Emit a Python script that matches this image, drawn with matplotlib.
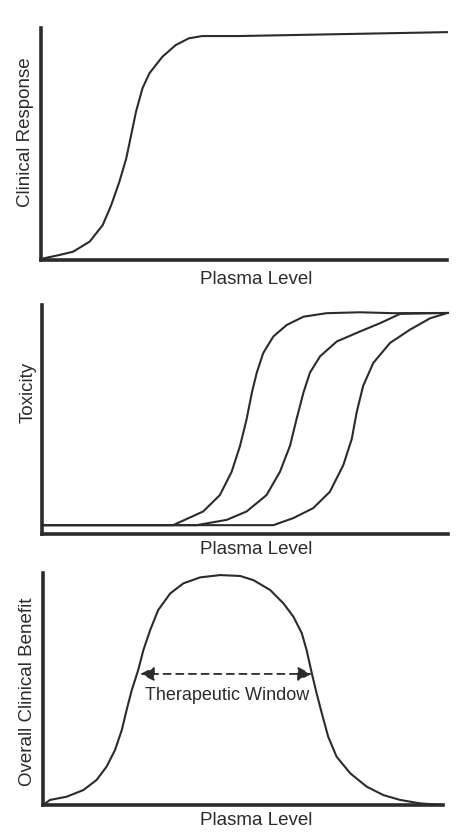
import matplotlib.pyplot as plt

# curve points (plasma level 0-100, response 0-100)
response_x = [0, 0.6, 4.6, 7.9, 12, 15.2, 17.3, 19.3, 21, 22.2, 23.4, 25, 26.7,
              29.9, 33.2, 36.4, 39.7, 48.7, 100]
response_y = [0, 0.7, 2.2, 3.6, 8, 15.2, 23.9, 34, 44.2, 54.3, 64.5, 74.7, 81.2,
              88.4, 93.5, 96.4, 97.4, 97.4, 99.1]

tox1_x = [0, 32.3, 39.7, 43.8, 46.7, 48.8, 50.4, 51.7, 52.9, 54.5, 57, 60.3, 64.4,
          70.1, 78.3, 86.5, 100]
tox1_y = [4, 4, 10.2, 17.6, 28.1, 40, 52, 64, 73, 81.9, 89.4, 94.6, 98.3,
          99.9, 100.3, 99.9, 100]
tox2_x = [0, 38.1, 45.5, 50.4, 55.3, 58.6, 61.1, 62.7, 64.4, 66, 68.5, 72.6, 78.3,
          83.3, 88.2, 100]
tox2_y = [4, 4, 6.4, 10.2, 17.6, 28.1, 40, 52, 64, 73, 80.4, 87.1, 91.6,
          95.4, 99.6, 100]
tox3_x = [0, 57, 61.9, 66.8, 70.9, 74.2, 76.3, 77.5, 79.1, 81.6, 85.7, 90.6, 95.6, 99.7]
tox3_y = [4, 4, 7.2, 11.7, 19.1, 31.1, 43, 55, 67, 77.4, 86.4, 92.4, 97.6, 99.9]

benefit_x = [0, 1.75, 5.9, 10.1, 13.4, 15.9, 18, 19.7, 20.9, 22.2, 23.8, 25.1, 26.8,
             28.8, 31.8, 35.1, 39.3, 44.3, 49.3, 52.6, 56.8, 60.1, 62.6, 64.7, 65.9,
             67.2, 68.4, 69.7, 71.3, 73.4, 76.8, 80.9, 85.1, 89.3, 94.3, 100]
benefit_y = [0, 2.2, 3.6, 6.5, 10.9, 16.7, 23.9, 32.6, 41.3, 50, 58.7, 67.4, 76.1,
             84.8, 92, 96.4, 99, 100, 99.6, 97.8, 93.5, 87.7, 81.9, 74.7, 67.4,
             57.3, 48.6, 39.9, 29.7, 21, 13.8, 8, 4.3, 2.2, 0.7, 0]

window_start, window_end, window_level = 24.3, 67.2, 57

plt.rcParams['font.family'] = ['Liberation Sans', 'DejaVu Sans']

INK = '#2b2b2b'
W, H = 463, 838
fig = plt.figure(figsize=(W / 100, H / 100), dpi=100)
fig.patch.set_facecolor('white')


def panel(left, bottom, right, top, ymax):
    ax = fig.add_axes([left / W, 1 - bottom / H, (right - left) / W, (bottom - top) / H])
    ax.set_xlim(0, 100)
    ax.set_ylim(0, ymax)
    for s in ['top', 'right']:
        ax.spines[s].set_visible(False)
    for s in ['left', 'bottom']:
        ax.spines[s].set_linewidth(2.6)
        ax.spines[s].set_color(INK)
        ax.spines[s].set_capstyle('projecting')
    ax.set_xticks([])
    ax.set_yticks([])
    ax.patch.set_alpha(0)
    return ax


def label(x, y, text, rot=0):
    fig.text(x / W, 1 - y / H, text, ha='center', va='center', rotation=rot,
             fontsize=13.5, color=INK)


ax1 = panel(41, 260, 447, 28, 100.9)
ax1.plot(response_x, response_y, color=INK, lw=1.5, clip_on=False,
         solid_joinstyle='round')
label(256, 279, 'Plasma Level')
label(26, 132, 'Clinical Response', 90)

ax2 = panel(42, 534, 448, 305, 103.6)
for xs, ys in [(tox1_x, tox1_y), (tox2_x, tox2_y), (tox3_x, tox3_y)]:
    ax2.plot(xs, ys, color=INK, lw=1.5, clip_on=False, solid_joinstyle='round')
label(256, 550, 'Plasma Level')
label(28, 392, 'Toxicity', 90)

ax3 = panel(43, 805, 443, 573, 100.9)
ax3.plot(benefit_x, benefit_y, color=INK, lw=1.5, clip_on=False,
         solid_joinstyle='round')
ax3.annotate('', xy=(window_start, window_level), xytext=(window_end, window_level),
             arrowprops=dict(arrowstyle='<|-|>,head_length=0.7,head_width=0.35',
                             linestyle=(0, (4, 3)), color=INK, lw=1.3,
                             mutation_scale=12, shrinkA=0, shrinkB=0))
ax3.text(46, 47.8, 'Therapeutic Window', ha='center', va='center', fontsize=13,
         color=INK)
label(256, 820, 'Plasma Level')
label(28, 692, 'Overall Clinical Benefit', 90)

fig.savefig('out.png', dpi=100, facecolor='white')
